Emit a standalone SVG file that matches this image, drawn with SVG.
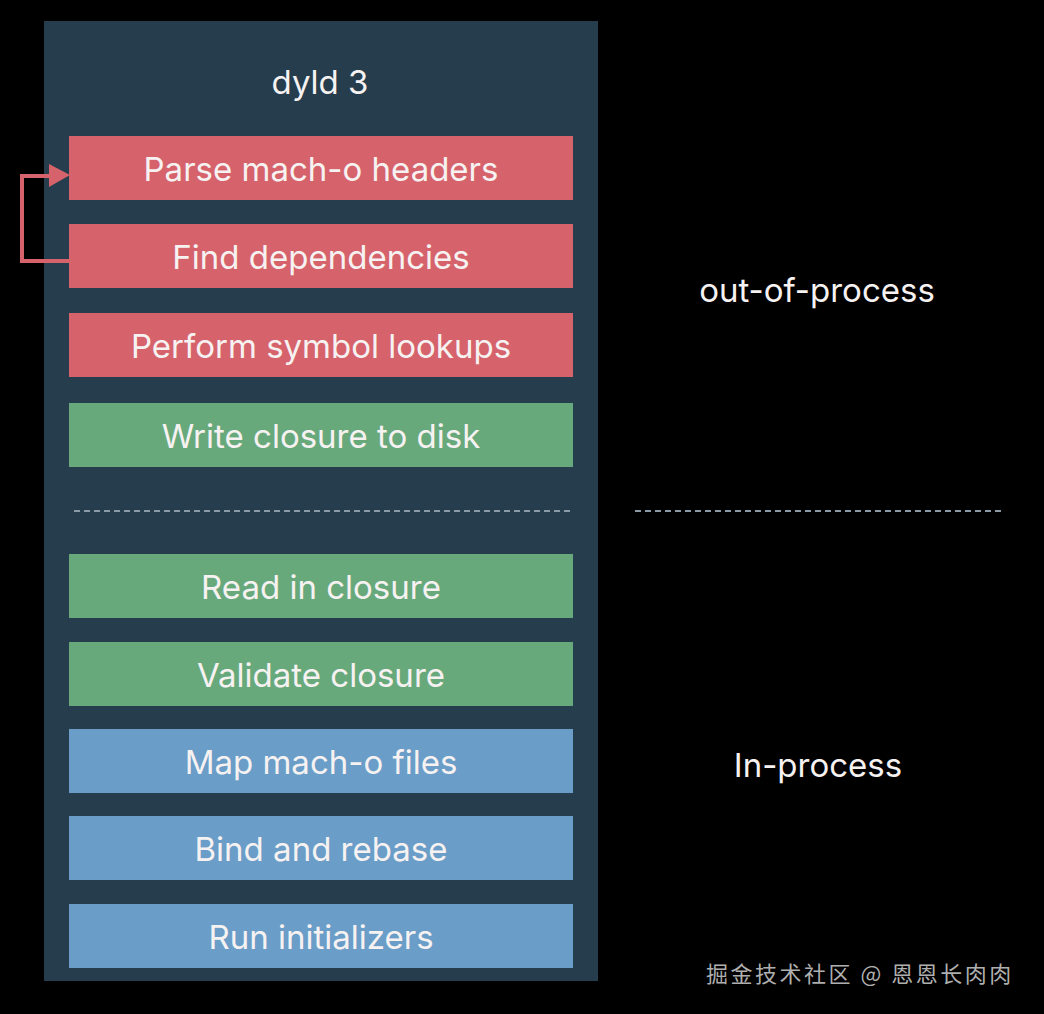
<svg xmlns="http://www.w3.org/2000/svg" width="1044" height="1014" viewBox="0 0 1044 1014">
<defs>
<style>
.box text, .lbl { font-family: Inter, "Open Sans", "Liberation Sans", sans-serif; font-size: 33px; fill: #f7f2f2; text-anchor: middle; }
.red rect { fill: #d6636b; }
.green rect { fill: #68a97c; }
.blue rect { fill: #6a9dc7; }
.dash { stroke: #8a9aa6; stroke-width: 2; stroke-dasharray: 6 4; fill: none; }
</style>
</defs>
<rect width="1044" height="1014" fill="#000"/>
<g id="panel">
<rect x="44" y="21" width="554" height="960" fill="#253d4d"/>
<text class="lbl" x="320" y="94">dyld 3</text>
</g>
<g id="n1" class="box red"><rect x="69" y="136" width="504" height="64"/><text x="321" y="181">Parse mach-o headers</text></g>
<g id="n2" class="box red"><rect x="69" y="224" width="504" height="64"/><text x="321" y="269">Find dependencies</text></g>
<g id="n3" class="box red"><rect x="69" y="313" width="504" height="64"/><text x="321" y="358">Perform symbol lookups</text></g>
<g id="n4" class="box green"><rect x="69" y="403" width="504" height="64"/><text x="321" y="448">Write closure to disk</text></g>
<g id="n5" class="box green"><rect x="69" y="554" width="504" height="64"/><text x="321" y="599">Read in closure</text></g>
<g id="n6" class="box green"><rect x="69" y="642" width="504" height="64"/><text x="321" y="687">Validate closure</text></g>
<g id="n7" class="box blue"><rect x="69" y="729" width="504" height="64"/><text x="321" y="774">Map mach-o files</text></g>
<g id="n8" class="box blue"><rect x="69" y="816" width="504" height="64"/><text x="321" y="861">Bind and rebase</text></g>
<g id="n9" class="box blue"><rect x="69" y="904" width="504" height="64"/><text x="321" y="949">Run initializers</text></g>
<g id="connectors">
<path d="M69,261 L22,261 L22,176 L50,176" fill="none" stroke="#d6636b" stroke-width="4"/>
<path d="M49,164 L70,175 L49,187 Z" fill="#d6636b"/>
</g>
<g id="dividers">
<line class="dash" x1="74" y1="511" x2="572" y2="511"/>
<line class="dash" x1="635" y1="511" x2="1002" y2="511"/>
</g>
<g id="labels">
<text class="lbl" x="817" y="302">out-of-process</text>
<text class="lbl" x="818" y="777">In-process</text>
</g>
<g id="watermark">
<text x="706" y="982" font-family="'Noto Sans CJK SC', sans-serif" font-size="22" letter-spacing="2.5" fill="#d0d0d0" fill-opacity="0.85">掘金技术社区 @ 恩恩长肉肉</text>
</g>
</svg>
